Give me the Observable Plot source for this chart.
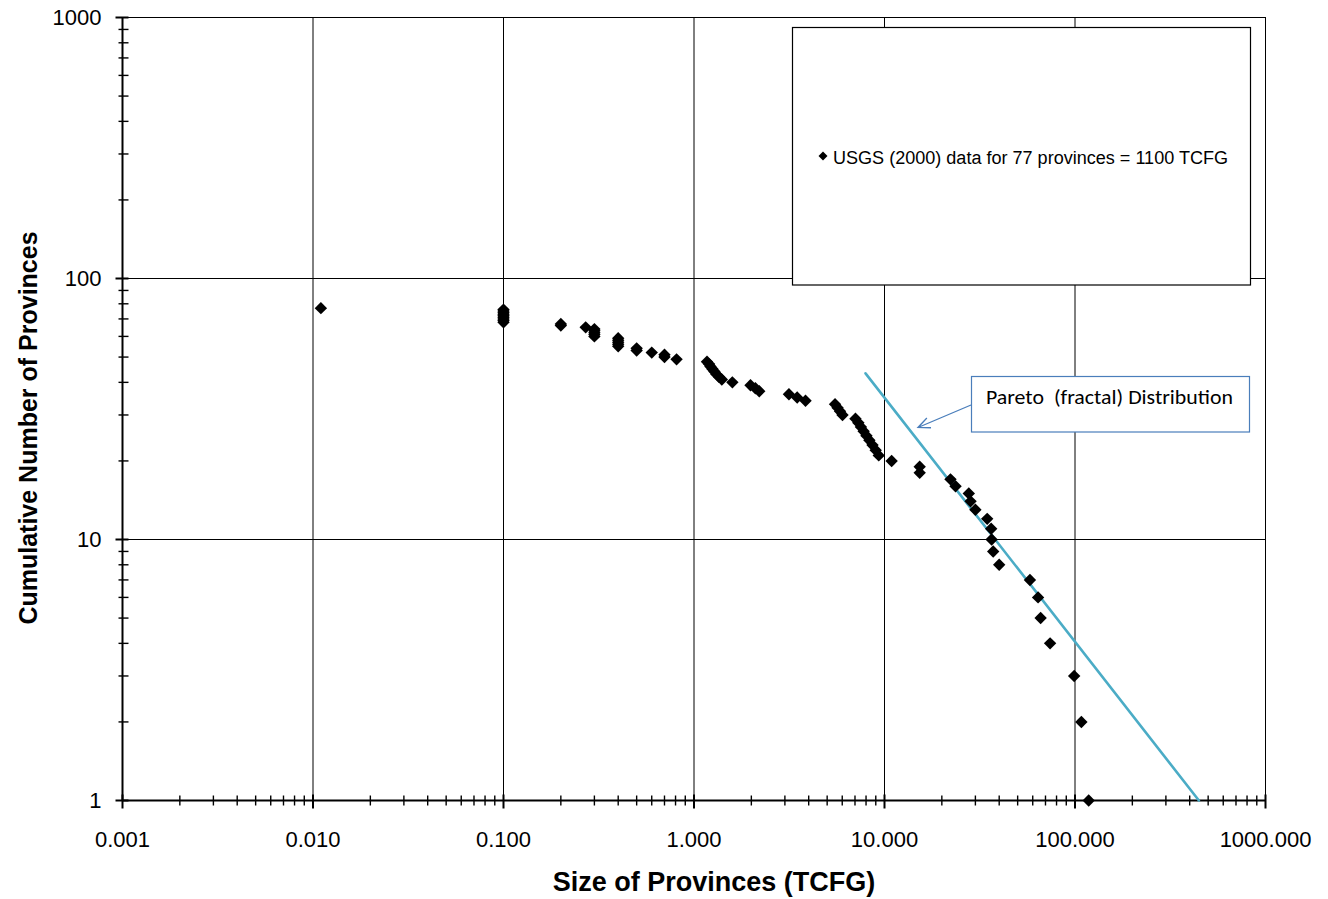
<!DOCTYPE html>
<html>
<head>
<meta charset="utf-8">
<script src="https://cdn.jsdelivr.net/npm/d3@7"></script>
<script src="https://cdn.jsdelivr.net/npm/@observablehq/plot@0.6"></script>
<style>
  html, body { margin: 0; padding: 0; background: #fff; }
  #wrap { position: relative; width: 1328px; height: 899px; font-family: "Liberation Sans", Arial, sans-serif; }
  #overlay { position: absolute; left: 0; top: 0; pointer-events: none; }
</style>
</head>
<body>
<div id="wrap"></div>
<script>
// ---- Data ----
// Size of each province (TCFG), ordered from largest (rank 1) to smallest (rank 77)
const sizeTCFG = [
  118, 108, 99, 74, 66, 64, 58, 40, 37.2, 36.5,
  36.3, 34.6, 30, 28.3, 27.7, 23.6, 22.2, 15.3, 15.3, 10.9,
  9.33, 8.99, 8.65, 8.33, 8.04, 7.77, 7.52, 7.29, 7.04, 6.02,
  5.84, 5.67, 5.50, 3.85, 3.48, 3.15, 2.2, 2.1, 1.98, 1.59,
  1.4, 1.35, 1.31, 1.28, 1.25, 1.22, 1.2, 1.17, 0.81, 0.7,
  0.7, 0.6, 0.5, 0.5, 0.4, 0.4, 0.4, 0.4, 0.4, 0.3,
  0.3, 0.3, 0.3, 0.3, 0.27, 0.2, 0.2, 0.1, 0.1, 0.1,
  0.1, 0.1, 0.1, 0.1, 0.1, 0.1, 0.011
];
// Cumulative number of provinces
const cumulativeCount = [
  1, 2, 3, 4, 5, 6, 7, 8, 9, 10,
  11, 12, 13, 14, 15, 16, 17, 18, 19, 20,
  21, 22, 23, 24, 25, 26, 27, 28, 29, 30,
  31, 32, 33, 34, 35, 36, 37, 38, 39, 40,
  41, 42, 43, 44, 45, 46, 47, 48, 49, 50,
  51, 52, 53, 54, 55, 56, 57, 58, 59, 60,
  61, 62, 63, 64, 65, 66, 67, 68, 69, 70,
  71, 72, 73, 74, 75, 76, 77
];
// Pareto (fractal) distribution line endpoints
const paretoSize = [7.95, 447];
const paretoCount = [43.3, 1];

// Axis ticks
const xMajorTicks = [0.001, 0.01, 0.1, 1, 10, 100, 1000];
const xMinorTicks = [
  0.002,0.003,0.004,0.005,0.006,0.007,0.008,0.009,
  0.02,0.03,0.04,0.05,0.06,0.07,0.08,0.09,
  0.2,0.3,0.4,0.5,0.6,0.7,0.8,0.9,
  2,3,4,5,6,7,8,9,
  20,30,40,50,60,70,80,90,
  200,300,400,500,600,700,800,900
];
const yMajorTicks = [1, 10, 100, 1000];
const yMinorTicks = [2,3,4,5,6,7,8,9,20,30,40,50,60,70,80,90,200,300,400,500,600,700,800,900];

const xTitle = "Size of Provinces (TCFG)";
const yTitle = "Cumulative Number of Provinces";
const legendLabel = "USGS (2000) data for 77 provinces = 1100 TCFG";
const paretoLabel = "Pareto  (fractal) Distribution";

// ---- Build ----
const points = sizeTCFG.map((s, i) => ({size: s, count: cumulativeCount[i]}));
const pareto = paretoSize.map((s, i) => ({size: s, count: paretoCount[i]}));

const diamond = {draw(c) { const r = 6.2; c.moveTo(0, -r); c.lineTo(r, 0); c.lineTo(0, r); c.lineTo(-r, 0); c.closePath(); }};
const vMinor = {draw(c) { c.moveTo(0, -5); c.lineTo(0, 5); }};
const vMajor = {draw(c) { c.moveTo(0, -6); c.lineTo(0, 8); }};
const hMinor = {draw(c) { c.moveTo(-4, 0); c.lineTo(6, 0); }};
const hMajor = {draw(c) { c.moveTo(-7, 0); c.lineTo(6, 0); }};

const chart = Plot.plot({
  width: 1328,
  height: 899,
  marginLeft: 122,
  marginRight: 63,
  marginTop: 17,
  marginBottom: 99,
  style: {fontFamily: '"Liberation Sans", Arial, sans-serif', fontSize: "22px", color: "#000", background: "#fff"},
  x: {type: "log", domain: [0.001, 1000], axis: null},
  y: {type: "log", domain: [1, 1000], axis: null},
  marks: [
    Plot.ruleX(xMajorTicks.slice(1), {stroke: "#000", strokeWidth: 1}),
    Plot.ruleY(yMajorTicks.slice(1), {stroke: "#000", strokeWidth: 1}),
    Plot.ruleX([0.001], {stroke: "#000", strokeWidth: 2}),
    Plot.ruleY([1], {stroke: "#000", strokeWidth: 2}),
    Plot.dot(xMinorTicks, {x: d => d, frameAnchor: "bottom", symbol: vMinor, stroke: "#000", strokeWidth: 1.4, r: 5}),
    Plot.dot(xMajorTicks, {x: d => d, frameAnchor: "bottom", symbol: vMajor, stroke: "#000", strokeWidth: 2, r: 5}),
    Plot.dot(yMinorTicks, {y: d => d, frameAnchor: "left", symbol: hMinor, stroke: "#000", strokeWidth: 1.4, r: 5}),
    Plot.dot(yMajorTicks, {y: d => d, frameAnchor: "left", symbol: hMajor, stroke: "#000", strokeWidth: 2, r: 5}),
    Plot.axisX(xMajorTicks, {tickSize: 0, tickPadding: 31, tickFormat: d3.format(".3f"), label: null, fontSize: 22}),
    Plot.axisY(yMajorTicks, {tickSize: 0, tickPadding: 21, tickFormat: d3.format("d"), label: null, fontSize: 22}),
    Plot.line(pareto, {x: "size", y: "count", stroke: "#4bacc6", strokeWidth: 2.6}),
    Plot.dot(points, {x: "size", y: "count", symbol: diamond, fill: "#000", r: 6}),
    Plot.text([xTitle], {frameAnchor: "bottom", lineAnchor: "middle", textAnchor: "middle", dy: 82, dx: 20, fontWeight: "bold", fontSize: 27}),
    Plot.text([yTitle], {frameAnchor: "left", lineAnchor: "middle", textAnchor: "middle", rotate: -90, dx: -94, dy: 19, fontWeight: "bold", fontSize: 25})
  ]
});

const wrap = document.getElementById("wrap");
wrap.appendChild(chart);

// ---- Legend and annotation overlay ----
const ov = d3.select(wrap).append("svg")
  .attr("id", "overlay").attr("width", 1328).attr("height", 899);

// Legend box
ov.append("rect").attr("x", 792.5).attr("y", 27.5).attr("width", 458).attr("height", 257.5)
  .attr("fill", "#fff").attr("stroke", "#000").attr("stroke-width", 1.2);
ov.append("path").attr("d", "M823,151.5 L827.5,156 L823,160.5 L818.5,156 Z").attr("fill", "#000");
ov.append("text").attr("x", 833).attr("y", 164)
  .attr("font-family", '"Liberation Sans", Arial, sans-serif').attr("font-size", 18)
  .attr("textLength", 395).attr("lengthAdjust", "spacingAndGlyphs")
  .text(legendLabel);

// Pareto annotation box
const boxColor = "#4a7ebb";
ov.append("rect").attr("x", 971.5).attr("y", 376.5).attr("width", 278).attr("height", 55.5)
  .attr("fill", "#fff").attr("stroke", boxColor).attr("stroke-width", 1.2);
ov.append("text").attr("x", 986).attr("y", 404)
  .attr("font-family", "Carlito, Lato, sans-serif").attr("font-size", 20)
  .attr("textLength", 247).attr("lengthAdjust", "spacingAndGlyphs")
  .style("white-space", "pre")
  .text(paretoLabel);

// Arrow from box to line
const x0 = 971, y0 = 405, x1 = 918, y1 = 427.5;
const ang = Math.atan2(y1 - y0, x1 - x0);
const hl = 13, ha = 0.42;
ov.append("path")
  .attr("d", `M${x0},${y0} L${x1},${y1} M${x1 - hl * Math.cos(ang - ha)},${y1 - hl * Math.sin(ang - ha)} L${x1},${y1} L${x1 - hl * Math.cos(ang + ha)},${y1 - hl * Math.sin(ang + ha)}`)
  .attr("fill", "none").attr("stroke", boxColor).attr("stroke-width", 1.3);
</script>
</body>
</html>
